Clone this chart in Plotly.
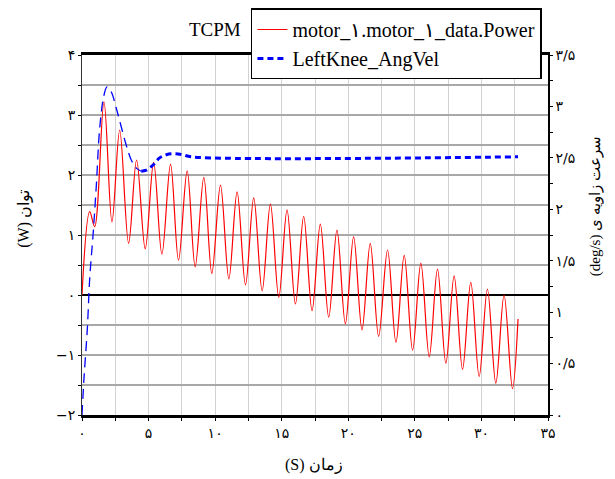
import plotly.graph_objects as go

# ---- data ----
power_t = [0, 0.58, 0.95, 1.65, 2.25, 2.83, 3.5, 4.1, 4.75, 5.38, 6.0, 6.65, 7.25, 7.9, 8.5, 9.15,
           9.75, 10.4, 11.03, 11.65, 12.28, 12.9, 13.53, 14.15, 14.78, 15.4, 16.03, 16.65, 17.28, 17.9,
           18.53, 19.15, 19.78, 20.4, 21.03, 21.65, 22.28, 22.95, 23.58, 24.2, 24.83, 25.45, 26.08,
           26.7, 27.33, 27.95, 28.58, 29.2, 29.83, 30.45, 31.08, 31.7, 32.33, 32.75]
power_w = [0, 1.39, 1.14, 3.22, 1.22, 2.75, 0.86, 2.25, 0.77, 2.21, 0.68, 2.18, 0.58, 2.07, 0.47, 1.96,
           0.36, 1.83, 0.27, 1.72, 0.17, 1.62, 0.07, 1.52, -0.04, 1.42, -0.15, 1.31, -0.26, 1.18,
           -0.37, 1.08, -0.48, 0.97, -0.58, 0.86, -0.69, 0.75, -0.79, 0.66, -0.92, 0.53, -1.03,
           0.43, -1.14, 0.32, -1.24, 0.21, -1.36, 0.10, -1.47, 0.0, -1.56, -0.4]

angvel_t = [0, 0.15, 0.4, 0.58, 0.83, 1.08, 1.33, 1.65, 1.88, 2.2, 2.58, 2.95, 3.33, 3.7, 4.08, 4.45,
            4.83, 5.33, 5.83, 6.33, 6.95, 7.58, 8.2, 32.75]
angvel_v = [0, 0.36, 0.84, 1.33, 1.75, 2.24, 2.79, 3.11, 3.19, 3.14, 2.98, 2.80, 2.62, 2.48, 2.40, 2.37,
            2.38, 2.43, 2.50, 2.53, 2.54, 2.53, 2.51, 2.51]

x_tickvals = [0, 2.5, 5, 7.5, 10, 12.5, 15, 17.5, 20, 22.5, 25, 27.5, 30, 32.5, 35]
x_ticklabels = ["۰", "", "۵", "", "۱۰", "", "۱۵", "", "۲۰", "", "۲۵", "", "۳۰", "", "۳۵"]
y_tickvals = [-2, -1.5, -1, -0.5, 0, 0.5, 1, 1.5, 2, 2.5, 3, 3.5, 4]
y_ticklabels = ["−۲", "", "−۱", "", "۰", "", "۱", "", "۲", "", "۳", "", "۴"]
y2_tickvals = [0, 0.25, 0.5, 0.75, 1, 1.25, 1.5, 1.75, 2, 2.25, 2.5, 2.75, 3, 3.25, 3.5]
y2_ticklabels = ["۰", "", "۰/۵", "", "۱", "", "۱/۵", "", "۲", "", "۲/۵", "", "۳", "", "۳/۵"]

name_power = "motor_۱.motor_۱_data.Power"
name_vel = "LeftKnee_AngVel"
title_text = "TCPM"
# written so that the browser's left-to-right layout shows them as in the reference
x_title = "(S) زمان"
y_title = "(W) توان"
y2_title = "(deg/s) سرعت زاویه ی"

split = 15  # index where blue dash style changes

SERIF = "Liberation Serif, DejaVu Serif, serif"
TICKF = dict(family="DejaVu Sans, sans-serif", size=14, color="black")

fig = go.Figure()
fig.add_trace(go.Scatter(x=power_t, y=power_w, mode="lines", name=name_power,
                         line=dict(color="#ff0000", width=1.2, shape="spline", smoothing=1)))
fig.add_trace(go.Scatter(x=angvel_t[split:], y=angvel_v[split:], mode="lines", name=name_vel,
                         yaxis="y2", line=dict(color="#0000ff", width=3, dash="6px,4px",
                                               shape="spline", smoothing=1)))
fig.add_trace(go.Scatter(x=angvel_t[:split + 1], y=angvel_v[:split + 1], mode="lines", name=name_vel,
                         yaxis="y2", showlegend=False,
                         line=dict(color="#0000ff", width=1.3, dash="10px,6px",
                                   shape="spline", smoothing=1)))

fig.update_layout(
    width=615, height=479,
    margin=dict(l=74, r=75, t=47, b=72, autoexpand=False),
    paper_bgcolor="white", plot_bgcolor="white",
    showlegend=True,
    legend=dict(x=0.395, y=0.999, xref="container", yref="container",
                xanchor="left", yanchor="top",
                bgcolor="white", bordercolor="black", borderwidth=1.5,
                font=dict(family=SERIF, size=20, color="black"),
                tracegroupgap=0),
    xaxis=dict(range=[0, 35], tickmode="array", tickvals=x_tickvals, ticktext=x_ticklabels,
               showgrid=True, gridcolor="#d2d2d2", gridwidth=1, zeroline=False,
               showline=True, linecolor="black", linewidth=3, mirror=True,
               ticks="outside", ticklen=3, tickcolor="black", tickfont=TICKF),
    yaxis=dict(range=[-2, 4], tickmode="array", tickvals=y_tickvals, ticktext=y_ticklabels,
               showgrid=True, gridcolor="#a8a8a8", gridwidth=1.5,
               zeroline=True, zerolinecolor="black", zerolinewidth=2,
               showline=True, linecolor="#333333", linewidth=1,
               ticks="outside", ticklen=3, tickcolor="black", tickfont=TICKF),
    yaxis2=dict(range=[0, 3.5], overlaying="y", side="right", tickmode="array",
                tickvals=y2_tickvals, ticktext=y2_ticklabels, showgrid=False, zeroline=False,
                showline=True, linecolor="black", linewidth=1.5,
                ticks="outside", ticklen=3, tickcolor="black", tickfont=TICKF),
    annotations=[
        dict(text=title_text, x=0.2854, y=1.072, xref="paper", yref="paper", showarrow=False,
             xanchor="center", yanchor="middle", font=dict(family=SERIF, size=19, color="black")),
        dict(text=x_title, x=0.498, y=-0.139, xref="paper", yref="paper", showarrow=False,
             xanchor="center", yanchor="middle", font=dict(family=SERIF, size=16, color="black")),
        dict(text=y_title, x=-0.1245, y=0.545, xref="paper", yref="paper", showarrow=False,
             textangle=-90, xanchor="center", yanchor="middle",
             font=dict(family=SERIF, size=16, color="black")),
        dict(text=y2_title, x=1.1009, y=0.58, xref="paper", yref="paper", showarrow=False,
             textangle=-90, xanchor="center", yanchor="middle",
             font=dict(family=SERIF, size=15, color="black")),
    ],
)

fig.write_html("out.html")
